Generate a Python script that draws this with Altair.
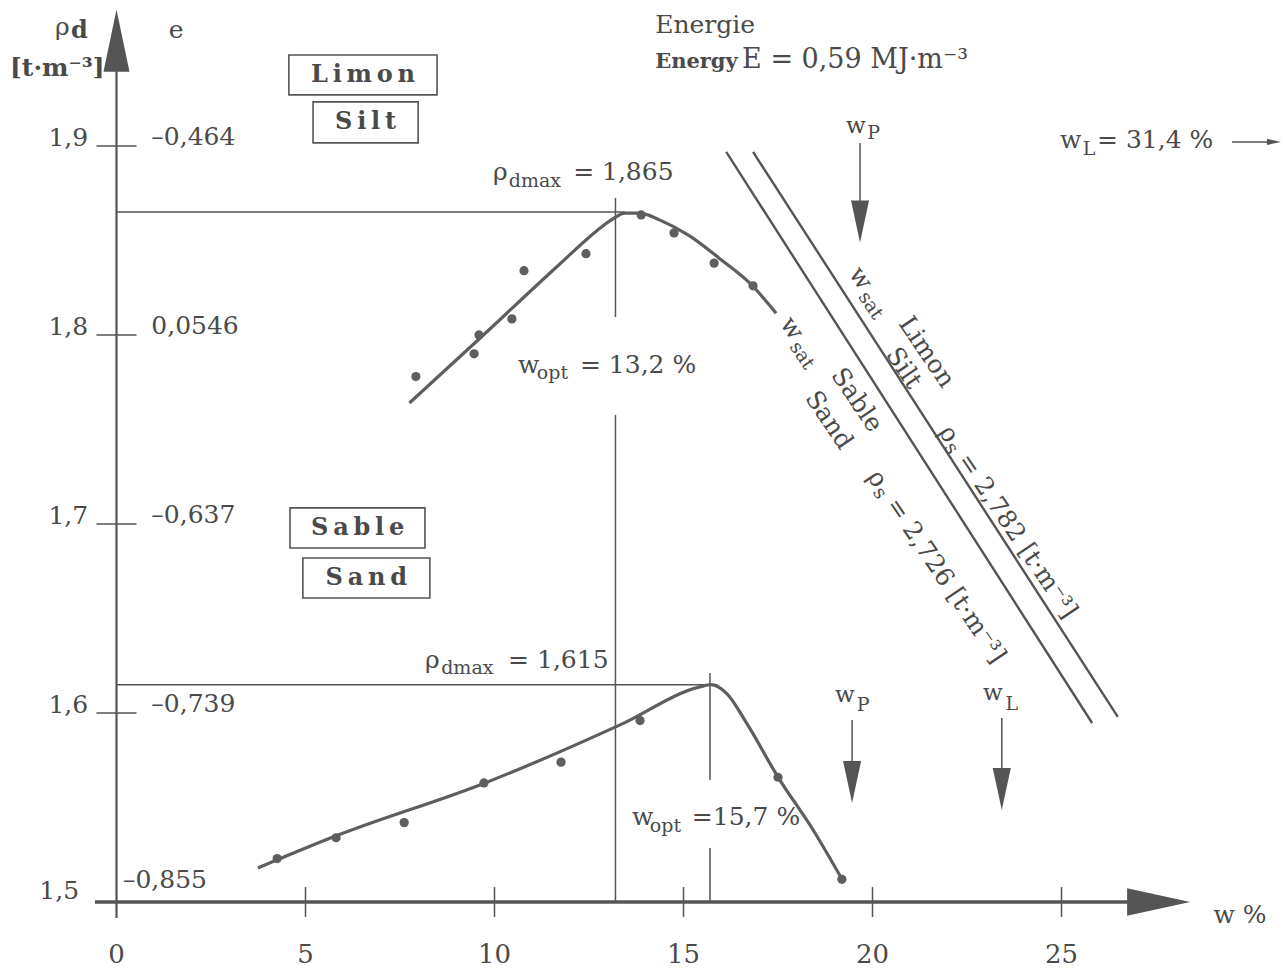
import altair as alt
import pandas as pd

FONT = "DejaVu Serif"
INK = "#4a4a4a"
LINE = "#555555"
CURVE = "#5e5e5e"

# plotting window in data units: w [%] horizontally, rho_d [t/m3] vertically
X_MIN, X_MAX = -3.082, 30.886
Y_MIN, Y_MAX = 1.4635, 1.9772

# ---- Proctor test results ------------------------------------------------
silt_w = [7.92, 9.46, 9.59, 10.46, 10.78, 12.42, 13.88, 14.75, 15.81, 16.84]
silt_rho = [1.778, 1.790, 1.800, 1.8085, 1.834, 1.843, 1.8635, 1.854, 1.838, 1.826]
sand_w = [4.25, 5.81, 7.61, 9.72, 11.76, 13.85, 17.50, 19.19]
sand_rho = [1.523, 1.534, 1.542, 1.563, 1.574, 1.596, 1.566, 1.512]

# ---- fitted compaction curves --------------------------------------------
silt_curve_w = [7.75, 9.6, 11.7, 12.7, 13.1, 13.45, 13.85, 14.35, 15.15, 15.95, 16.75, 17.45]
silt_curve_rho = [1.764, 1.798, 1.837, 1.855, 1.861, 1.8645, 1.8645, 1.861, 1.8525, 1.8405, 1.8275, 1.8115]
sand_curve_w = [3.74, 5.81, 9.75, 13.32, 15.43, 15.72, 16.14, 16.67, 17.50, 18.43, 19.19]
sand_curve_rho = [1.518, 1.535, 1.563, 1.5937, 1.6138, 1.615, 1.6104, 1.5946, 1.5661, 1.5381, 1.5122]

# ---- saturation lines (end points) ---------------------------------------
sat_sand_w = [16.13, 25.81]
sat_sand_rho = [1.8968, 1.5947]
sat_silt_w = [16.84, 26.49]
sat_silt_rho = [1.8968, 1.5979]

# ---- characteristic values -----------------------------------------------
wopt_silt, rhomax_silt = 13.2, 1.865
wopt_sand, rhomax_sand = 15.7, 1.615
wp_silt = 19.67
wp_sand, wl_sand = 19.46, 23.42

# ---- axes -----------------------------------------------------------------
x_ticks = [0, 5, 10, 15, 20, 25]
x_tick_labels = ["0", "5", "10", "15", "20", "25"]
y_ticks = [1.6, 1.7, 1.8, 1.9]
y_tick_labels = ["1,6", "1,7", "1,8", "1,9"]
e_labels = ["–0,739", "–0,637", "0,0546", "–0,464"]

XS = alt.Scale(domain=[X_MIN, X_MAX], nice=False, zero=False)
YS = alt.Scale(domain=[Y_MIN, Y_MAX], nice=False, zero=False)


def xy():
    return dict(x=alt.X("w:Q", scale=XS, axis=None), y=alt.Y("rho:Q", scale=YS, axis=None))


def segments(rows, width, color=LINE):
    df = pd.DataFrame(rows, columns=["w", "rho", "w2", "rho2"])
    return alt.Chart(df).mark_rule(strokeWidth=width, color=color).encode(
        x2="w2:Q", y2="rho2:Q", **xy())


def texts(rows, size, weight="normal", align="left", baseline="alphabetic",
          angle=0, dx=0, dy=0, color=INK):
    df = pd.DataFrame(rows, columns=["w", "rho", "label"])
    return alt.Chart(df).mark_text(
        font=FONT, fontSize=size, fontWeight=weight, align=align,
        baseline=baseline, angle=angle, dx=dx, dy=dy, color=color,
    ).encode(text="label:N", **xy())


def heads(rows, shape, size):
    df = pd.DataFrame(rows, columns=["w", "rho"])
    return alt.Chart(df).mark_point(
        shape=shape, size=size, filled=True, opacity=1, color=LINE, strokeWidth=0
    ).encode(**xy())


def curve(ws, rs):
    df = pd.DataFrame({"w": ws, "rho": rs})
    return alt.Chart(df).mark_line(
        interpolate="monotone", strokeWidth=3.2, color=CURVE).encode(**xy())


def dots(ws, rs):
    df = pd.DataFrame({"w": ws, "rho": rs})
    return alt.Chart(df).mark_circle(size=85, opacity=1, color=CURVE).encode(**xy())


DOWN = "M -0.43 -1 L 0.43 -1 L 0 1 Z"
UP = "M 0 -1 L 0.42 1 L -0.42 1 Z"
RIGHT = "M 1 0 L -1 -0.44 L -1 0.44 Z"

# axes lines, ticks and arrowheads
axes = segments([[0, 1.4915, 0, 1.945]], 2.2)
x_axis = segments([[-0.57, 1.5, 26.8, 1.5]], 3.5)
x_tick_marks = segments([[t, 1.5079, t, 1.4921] for t in x_ticks[1:]], 1.5)
y_tick_marks = segments([[-0.53, r, 0.53, r] for r in y_ticks], 1.5)
axis_heads = alt.layer(heads([[0, 1.9556]], UP, 3844), heads([[27.57, 1.5]], RIGHT, 3969))

# reference lines for optimum water contents and maximum densities
refs = segments([
    [0, rhomax_silt, 13.45, rhomax_silt],
    [wopt_silt, 1.8725, wopt_silt, 1.8095],
    [wopt_silt, 1.7577, wopt_silt, 1.5],
    [0, rhomax_sand, 15.9, rhomax_sand],
    [wopt_sand, 1.6212, wopt_sand, 1.5646],
    [wopt_sand, 1.5286, wopt_sand, 1.5],
    [wp_silt, 1.9016, wp_silt, 1.862],
    [wp_sand, 1.5963, wp_sand, 1.566],
    [wl_sand, 1.5974, wl_sand, 1.562],
    [29.51, 1.9021, 30.46, 1.9021],
], 1.5)
limit_heads = alt.layer(
    heads([[wp_silt, 1.860], [wp_sand, 1.5635], [wl_sand, 1.5598]], DOWN, 1764),
    heads([[30.62, 1.9021]], RIGHT, 196),
)

# zero-air-voids lines
sat_lines = segments([
    [sat_sand_w[0], sat_sand_rho[0], sat_sand_w[1], sat_sand_rho[1]],
    [sat_silt_w[0], sat_silt_rho[0], sat_silt_w[1], sat_silt_rho[1]],
], 2.4)

# soil name boxes
box_df = pd.DataFrame([
    [4.56, 1.9481, 8.48, 1.9270],
    [5.20, 1.9233, 7.98, 1.9016],
    [4.59, 1.7085, 8.16, 1.6873],
    [4.93, 1.6820, 8.29, 1.6608],
], columns=["w", "rho", "w2", "rho2"])
boxes = alt.Chart(box_df).mark_rect(
    fillOpacity=0, stroke=LINE, strokeWidth=1.6).encode(x2="w2:Q", y2="rho2:Q", **xy())

T = "\u2009"
box_labels = texts([
    [6.52, 1.9376, T.join("Limon")],
    [6.59, 1.9125, T.join("Silt")],
    [6.38, 1.6979, T.join("Sable")],
    [6.61, 1.6714, T.join("Sand")],
], 24, weight="bold", align="center", baseline="middle")

# tick labels
x_labels = texts([[t, 1.4677, s] for t, s in zip(x_ticks, x_tick_labels)], 26, align="center")
y_labels = texts([[-0.75, r, s] for r, s in zip(y_ticks, y_tick_labels)], 25, align="right", dy=0)
y_label_base = texts([[-0.99, 1.5, "1,5"]], 25, align="right", dy=-3)
e_label_txt = texts([[0.92, r, s] for r, s in zip(y_ticks, e_labels)], 25, dy=-1)
e_label_base = texts([[0.17, 1.5, "–0,855"]], 25, dy=-14)
axis_titles = alt.layer(
    texts([[-1.627, 1.9587, "ρ"]], 25),
    texts([[-1.204, 1.9571, "d"]], 24, weight="bold"),
    texts([[-2.817, 1.937, "[t·m⁻³]"]], 25, weight="bold"),
    texts([[1.575, 1.9571, "e"], [29.72, 1.4889, "w %"]], 25, align="center"),
)

# annotations
notes_main = texts([
    [14.25, 1.9598, "Energie"],
    [24.96, 1.8989, "w"],
    [25.94, 1.8989, "= 31,4 %"],
    [9.96, 1.882, "ρ"],
    [12.08, 1.882, "= 1,865"],
    [10.62, 1.7799, "w"],
    [12.26, 1.7799, "= 13,2 %"],
    [8.16, 1.6238, "ρ"],
    [10.36, 1.6238, "= 1,615"],
    [13.64, 1.5407, "w"],
    [15.22, 1.5407, "=15,7 %"],
], 25)
notes_energy = texts([[16.55, 1.9413, "E = 0,59 MJ·m⁻³"]], 27)
notes_w_small = texts([
    [19.30, 1.9069, "w"],
    [19.01, 1.6058, "w"],
    [22.92, 1.6069, "w"],
], 23)
notes_sub = texts([
    [19.86, 1.9037, "P"],
    [25.56, 1.8952, "L"],
    [10.38, 1.8783, "dmax"],
    [11.12, 1.7767, "opt"],
    [8.59, 1.6206, "dmax"],
    [14.11, 1.5370, "opt"],
    [19.58, 1.6011, "P"],
    [23.52, 1.6016, "L"],
], 19)
notes_bold = texts([[14.25, 1.9413, "Energy"]], 21, weight="bold")

# labels written along the saturation lines
ANG = 56
along = alt.layer(
    texts([[19.85, 1.8254, "w"], [18.03, 1.7989, "w"]], 25, align="right",
          baseline="middle", angle=ANG),
    texts([[19.85, 1.8254, "sat"], [18.03, 1.7989, "sat"]], 19, align="left",
          baseline="middle", angle=ANG, dx=3, dy=7),
    texts([[21.44, 1.791, "Limon"], [20.83, 1.7825, "Silt"],
           [19.59, 1.7656, "Sable"], [18.85, 1.755, "Sand"]], 25, align="center",
          baseline="middle", angle=ANG),
    texts([[22.13, 1.7444, "ρ"], [20.24, 1.7208, "ρ"]], 25, align="right",
          baseline="middle", angle=ANG),
    texts([[22.13, 1.7444, "s"], [20.24, 1.7208, "s"]], 19, align="left",
          baseline="middle", angle=ANG, dx=1, dy=6),
    texts([[22.13, 1.7444, "= 2,782  [t·m⁻³]"], [20.24, 1.7208, "= 2,726  [t·m⁻³]"]], 25,
          align="left", baseline="middle", angle=ANG, dx=19),
)

chart = alt.layer(
    refs, sat_lines, boxes,
    curve(silt_curve_w, silt_curve_rho), curve(sand_curve_w, sand_curve_rho),
    dots(silt_w, silt_rho), dots(sand_w, sand_rho),
    axes, x_axis, x_tick_marks, y_tick_marks, axis_heads, limit_heads,
    box_labels, x_labels, y_labels, y_label_base, e_label_txt, e_label_base,
    axis_titles, notes_main, notes_energy, notes_w_small, notes_sub, notes_bold, along,
).properties(
    width=1284, height=971, padding=0, background="white",
    autosize=alt.AutoSizeParams(type="none"),
).configure_view(stroke=None)

chart.save("out.html", embed_options={"renderer": "svg", "actions": False})
